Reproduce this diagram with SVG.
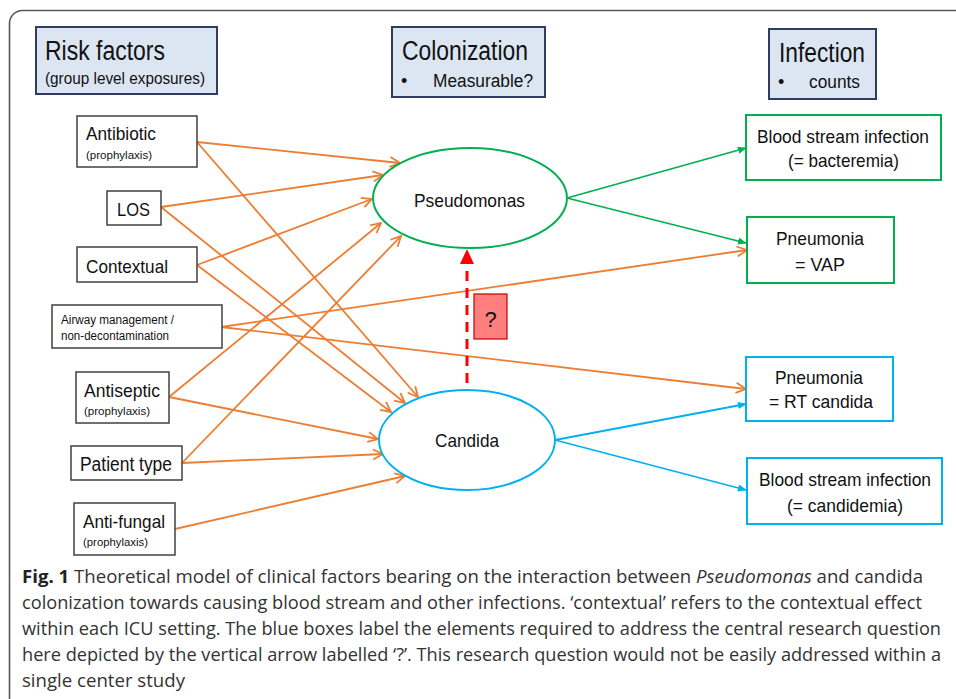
<svg xmlns="http://www.w3.org/2000/svg" width="956" height="699" viewBox="0 0 956 699">
<defs>
<style>
.frame{fill:#fff;stroke:#595959;stroke-width:1.6}
.hdr{fill:#DCE6F2;stroke:#2F3D63;stroke-width:2}
.box{fill:#fff;stroke:#404040;stroke-width:1.5}
.gbox{fill:#fff;stroke:#00B050;stroke-width:2}
.bbox{fill:#fff;stroke:#00B0F0;stroke-width:2}
.t{font-family:"Liberation Sans",Arial,sans-serif;fill:#111}
.o{stroke:#ED7D31;stroke-width:1.8;fill:none;marker-end:url(#ao)}
.g{stroke:#00B050;stroke-width:1.8;fill:none;marker-end:url(#ag)}
.b{stroke:#00B0F0;stroke-width:1.8;fill:none;marker-end:url(#ab)}
.cap{font-family:"Open Sans","Noto Sans",sans-serif;font-size:18px;fill:#333}
</style>
<marker id="ao" viewBox="0 0 12 12" refX="11" refY="6" markerWidth="12" markerHeight="12" markerUnits="userSpaceOnUse" orient="auto"><path d="M1,1 L11,6 L1,11" fill="none" stroke="#ED7D31" stroke-width="1.8"/></marker>
<marker id="ag" viewBox="0 0 10 10" refX="9" refY="5" markerWidth="9" markerHeight="9" markerUnits="userSpaceOnUse" orient="auto"><path d="M0,1 L10,5 L0,9 Z" fill="#00B050"/></marker>
<marker id="ab" viewBox="0 0 10 10" refX="9" refY="5" markerWidth="9" markerHeight="9" markerUnits="userSpaceOnUse" orient="auto"><path d="M0,1 L10,5 L0,9 Z" fill="#00B0F0"/></marker>
</defs>
<rect width="956" height="699" fill="#fff"/>
<rect class="frame" x="9.5" y="10.5" width="980" height="720" rx="13"/>

<g id="hdr-risk"><rect class="hdr" x="36" y="27" width="181" height="67"/>
<text class="t" x="45" y="60" font-size="27" textLength="120" lengthAdjust="spacingAndGlyphs">Risk factors</text>
<text class="t" x="45" y="84" font-size="17" textLength="160" lengthAdjust="spacingAndGlyphs">(group level exposures)</text></g>
<g id="hdr-col"><rect class="hdr" x="392" y="27" width="153" height="70"/>
<text class="t" x="402" y="60" font-size="27" textLength="126" lengthAdjust="spacingAndGlyphs">Colonization</text>
<text class="t" x="401" y="87" font-size="18">•</text>
<text class="t" x="433" y="87" font-size="18" textLength="100" lengthAdjust="spacingAndGlyphs">Measurable?</text></g>
<g id="hdr-inf"><rect class="hdr" x="769" y="29" width="107" height="70"/>
<text class="t" x="779" y="62" font-size="27" textLength="86" lengthAdjust="spacingAndGlyphs">Infection</text>
<text class="t" x="778" y="88" font-size="18">•</text>
<text class="t" x="809" y="88" font-size="18" textLength="51" lengthAdjust="spacingAndGlyphs">counts</text></g>

<g id="connectors">
<path class="o" d="M197,142 L400,163"/>
<path class="o" d="M197,142 L418,397"/>
<path class="o" d="M161,207 L383,175"/>
<path class="o" d="M161,207 L405,403"/>
<path class="o" d="M197,265 L372,199"/>
<path class="o" d="M197,265 L391,412"/>
<path class="o" d="M221,327 L747,250"/>
<path class="o" d="M221,327 L746,389"/>
<path class="o" d="M169,397 L381,223"/>
<path class="o" d="M169,397 L378,439"/>
<path class="o" d="M182,463 L401,236"/>
<path class="o" d="M182,463 L383,454"/>
<path class="o" d="M175,529 L405,476"/>
<path class="g" d="M567,198 L746,148"/>
<path class="g" d="M567,198 L746,243"/>
<path class="b" d="M555,440 L746,404"/>
<path class="b" d="M555,440 L746,490"/>
<line x1="467" y1="383" x2="467" y2="262" stroke="#FF0000" stroke-width="3" stroke-dasharray="10,7"/>
<path d="M467,249 L474,264 L460,264 Z" fill="#FF0000"/>
</g>

<g id="n-antibiotic"><rect class="box" x="77" y="116" width="120" height="51"/>
<text class="t" x="86" y="140" font-size="19" textLength="70" lengthAdjust="spacingAndGlyphs">Antibiotic</text>
<text class="t" x="86" y="159" font-size="11.5" textLength="66" lengthAdjust="spacingAndGlyphs">(prophylaxis)</text></g>
<g id="n-los"><rect class="box" x="107" y="191" width="54" height="34"/>
<text class="t" x="117" y="216" font-size="19" textLength="33" lengthAdjust="spacingAndGlyphs">LOS</text></g>
<g id="n-contextual"><rect class="box" x="77" y="247" width="120" height="35"/>
<text class="t" x="86" y="273" font-size="19" textLength="82" lengthAdjust="spacingAndGlyphs">Contextual</text></g>
<g id="n-airway"><rect class="box" x="52" y="305" width="170" height="43"/>
<text class="t" x="61" y="324" font-size="12.5" textLength="113" lengthAdjust="spacingAndGlyphs">Airway management /</text>
<text class="t" x="61" y="340" font-size="12.5" textLength="108" lengthAdjust="spacingAndGlyphs">non-decontamination</text></g>
<g id="n-antiseptic"><rect class="box" x="76" y="372" width="93" height="51"/>
<text class="t" x="84" y="397" font-size="19" textLength="76" lengthAdjust="spacingAndGlyphs">Antiseptic</text>
<text class="t" x="84" y="415" font-size="11.5" textLength="66" lengthAdjust="spacingAndGlyphs">(prophylaxis)</text></g>
<g id="n-patient"><rect class="box" x="71" y="446" width="111" height="34"/>
<text class="t" x="80" y="471" font-size="20" textLength="92" lengthAdjust="spacingAndGlyphs">Patient type</text></g>
<g id="n-antifungal"><rect class="box" x="74" y="503" width="101" height="52"/>
<text class="t" x="83" y="528" font-size="19" textLength="82" lengthAdjust="spacingAndGlyphs">Anti-fungal</text>
<text class="t" x="83" y="546" font-size="11.5" textLength="65" lengthAdjust="spacingAndGlyphs">(prophylaxis)</text></g>

<g id="n-pseudomonas"><ellipse cx="470" cy="198" rx="97" ry="50" fill="#fff" stroke="#00B050" stroke-width="2"/>
<text class="t" x="414" y="207" font-size="19" textLength="111" lengthAdjust="spacingAndGlyphs">Pseudomonas</text></g>
<g id="n-candida"><ellipse cx="467" cy="440" rx="88" ry="50" fill="#fff" stroke="#00B0F0" stroke-width="2"/>
<text class="t" x="435" y="447" font-size="19" textLength="64" lengthAdjust="spacingAndGlyphs">Candida</text></g>

<g id="n-question"><rect x="474" y="294" width="33" height="45" fill="#FF7F7F" stroke="#C00000" stroke-width="1.2"/>
<text class="t" x="490.5" y="327" font-size="22" text-anchor="middle">?</text></g>

<g id="n-bsi-bact"><rect class="gbox" x="746" y="115" width="195" height="65"/>
<text class="t" x="757" y="143" font-size="19" textLength="172" lengthAdjust="spacingAndGlyphs">Blood stream infection</text>
<text class="t" x="788" y="167" font-size="19" textLength="111" lengthAdjust="spacingAndGlyphs">(= bacteremia)</text></g>
<g id="n-vap"><rect class="gbox" x="747" y="217" width="147" height="66"/>
<text class="t" x="776" y="245" font-size="19" textLength="88" lengthAdjust="spacingAndGlyphs">Pneumonia</text>
<text class="t" x="795" y="271" font-size="19" textLength="50" lengthAdjust="spacingAndGlyphs">= VAP</text></g>
<g id="n-rt"><rect class="bbox" x="746" y="357" width="147" height="64"/>
<text class="t" x="775" y="384" font-size="19" textLength="88" lengthAdjust="spacingAndGlyphs">Pneumonia</text>
<text class="t" x="769" y="408" font-size="19" textLength="104" lengthAdjust="spacingAndGlyphs">= RT candida</text></g>
<g id="n-bsi-cand"><rect class="bbox" x="747" y="458" width="195" height="66"/>
<text class="t" x="759" y="486" font-size="19" textLength="172" lengthAdjust="spacingAndGlyphs">Blood stream infection</text>
<text class="t" x="787" y="512" font-size="19" textLength="116" lengthAdjust="spacingAndGlyphs">(= candidemia)</text></g>

<g id="caption">
<text class="cap" x="22" y="583" textLength="901" lengthAdjust="spacingAndGlyphs"><tspan font-weight="bold" fill="#222">Fig. 1</tspan>  Theoretical model of clinical factors bearing on the interaction between <tspan font-style="italic">Pseudomonas</tspan> and candida</text>
<text class="cap" x="22" y="609" textLength="900" lengthAdjust="spacingAndGlyphs">colonization towards causing blood stream and other infections. ‘contextual’ refers to the contextual effect</text>
<text class="cap" x="22" y="635" textLength="919" lengthAdjust="spacingAndGlyphs">within each ICU setting. The blue boxes label the elements required to address the central research question</text>
<text class="cap" x="22" y="661" textLength="919" lengthAdjust="spacingAndGlyphs">here depicted by the vertical arrow labelled ‘?’. This research question would not be easily addressed within a</text>
<text class="cap" x="22" y="687" textLength="163" lengthAdjust="spacingAndGlyphs">single center study</text>
</g>
</svg>
